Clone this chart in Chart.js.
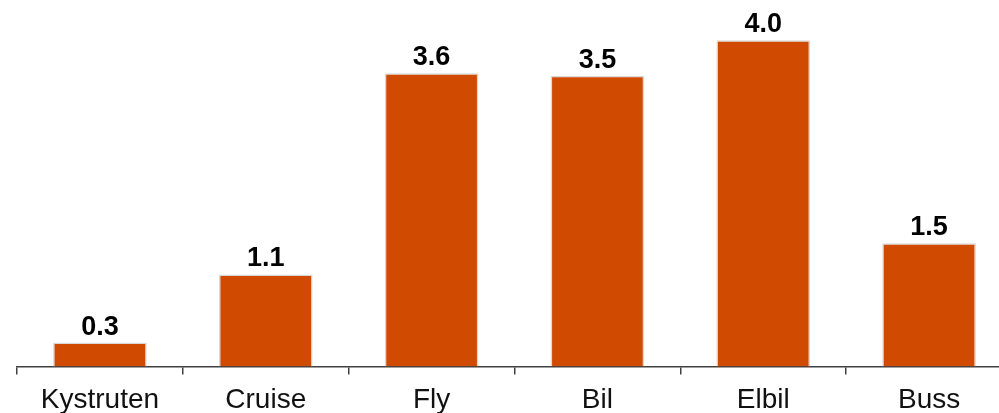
<!DOCTYPE html>
<html>
<head>
<meta charset="utf-8">
<script src="https://cdn.jsdelivr.net/npm/chart.js@4"></script>
<style>
  html, body { margin: 0; padding: 0; background: #ffffff; overflow: hidden; width: 999px; height: 413px; }
  #wrap { position: absolute; left: 0; top: 0; width: 1013px; height: 426px; }
</style>
</head>
<body>
<div id="wrap"><canvas id="c"></canvas></div>
<script>
const categories = ["Kystruten", "Cruise", "Fly", "Bil", "Elbil", "Buss"];
const values = [0.29, 1.12, 3.57, 3.54, 3.97, 1.50];

const valueLabelPlugin = {
  id: 'valueLabels',
  afterDatasetsDraw(chart) {
    const ctx = chart.ctx;
    const meta = chart.getDatasetMeta(0);
    ctx.save();
    ctx.font = 'bold 27px "Liberation Sans", Arial, sans-serif';
    ctx.fillStyle = '#000000';
    ctx.textAlign = 'center';
    ctx.textBaseline = 'alphabetic';
    meta.data.forEach((bar, i) => {
      ctx.fillText(values[i].toFixed(1), bar.x, bar.y - 8);
    });
    ctx.restore();
  }
};

new Chart(document.getElementById('c'), {
  type: 'bar',
  data: {
    labels: categories,
    datasets: [{
      data: values,
      backgroundColor: '#d04a02',
      borderColor: '#d9d9d9',
      borderWidth: 1.5,
      borderSkipped: 'start',
      categoryPercentage: 1.0,
      barPercentage: 0.565
    }]
  },
  options: {
    responsive: true,
    maintainAspectRatio: false,
    animation: false,
    devicePixelRatio: 1,
    layout: { padding: { left: 17, right: 1, top: 5, bottom: 0 } },
    plugins: { legend: { display: false }, tooltip: { enabled: false } },
    scales: {
      x: {
        offset: true,
        grid: {
          offset: true,
          drawOnChartArea: false,
          drawTicks: true,
          tickLength: 8,
          color: '#404040',
          lineWidth: 1.5
        },
        border: { display: true, color: '#404040', width: 1.5 },
        ticks: {
          color: '#111111',
          padding: 9,
          font: { family: '"Liberation Sans", Arial, sans-serif', size: 28 },
          maxRotation: 0,
          autoSkip: false
        }
      },
      y: {
        display: false,
        min: 0,
        max: 4.4
      }
    }
  },
  plugins: [valueLabelPlugin]
});
</script>
</body>
</html>
